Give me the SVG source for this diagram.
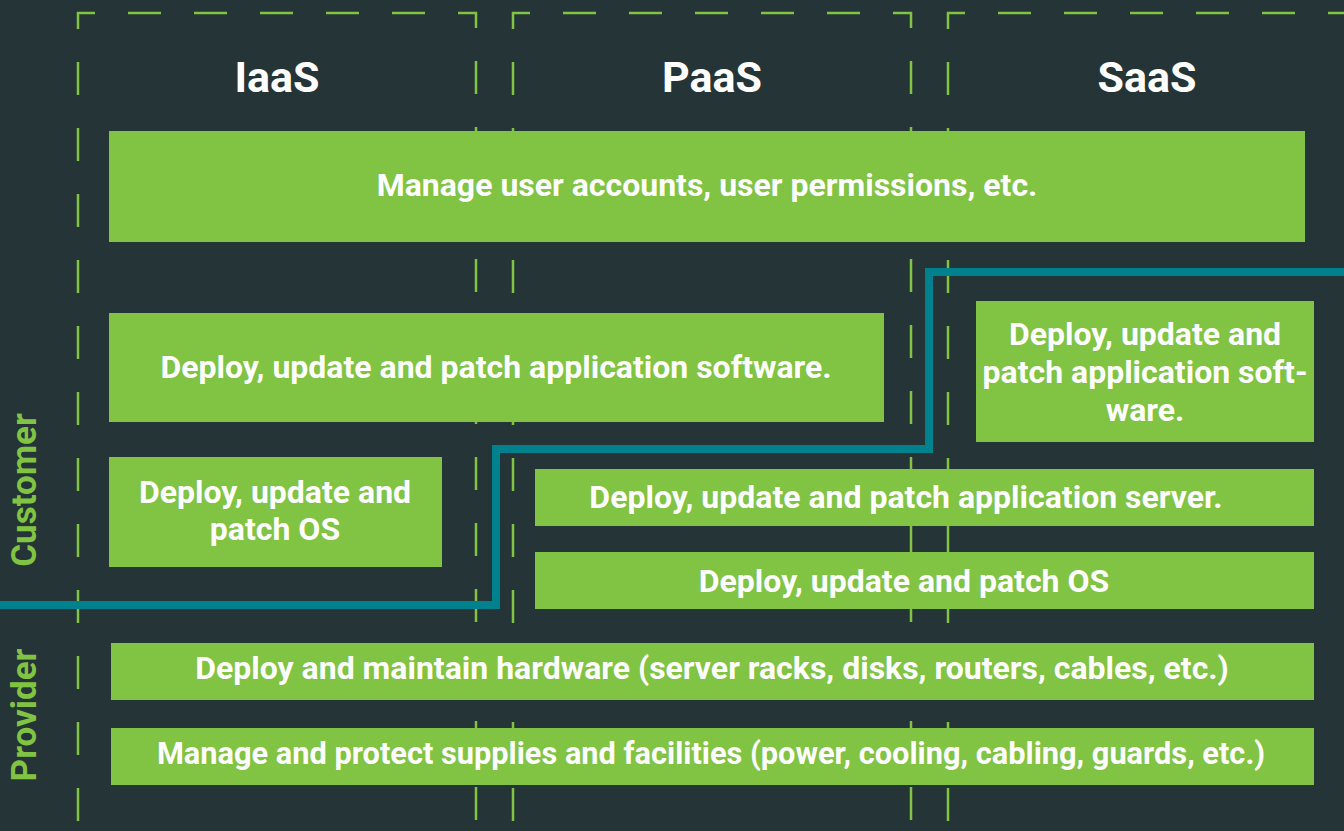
<svg xmlns="http://www.w3.org/2000/svg" xmlns:xlink="http://www.w3.org/1999/xlink" width="1344" height="831" viewBox="0 0 1344 831">
<style>
.bg{fill:#253537}
.box{fill:#81C342}
.col{fill:none;stroke:#81C342;stroke-width:2.5;stroke-dasharray:33 33;stroke-dashoffset:53}
.head{font-family:Roboto,"Liberation Sans",sans-serif;font-weight:700;font-size:43px;fill:#ffffff;text-anchor:middle}
.t{font-family:Roboto,"Liberation Sans",sans-serif;font-weight:700;font-size:32px;fill:#ffffff;text-anchor:middle}
.small{font-size:30.75px}
.side{font-family:Roboto,"Liberation Sans",sans-serif;font-weight:700;font-size:35px;fill:#81C342;text-anchor:middle}
.line{fill:none;stroke:#00828E;stroke-width:8;stroke-linejoin:miter}
</style>
<defs>
<path id="colpath" d="M78,900 V13 H476 V900"/>
</defs>
<rect class="bg" x="0" y="0" width="1344" height="831"/>
<g id="columns">
<use xlink:href="#colpath" class="col"/>
<use xlink:href="#colpath" class="col" transform="translate(435,0)"/>
<use xlink:href="#colpath" class="col" transform="translate(870,0)"/>
<text class="head" x="277" y="92">IaaS</text>
<text class="head" x="712" y="92">PaaS</text>
<text class="head" x="1147" y="92">SaaS</text>
</g>
<g id="sides">
<text class="side" transform="translate(36,490) rotate(-90)">Customer</text>
<text class="side" transform="translate(36,715) rotate(-90)">Provider</text>
</g>
<g id="n1"><rect class="box" x="109" y="131" width="1196" height="111"/><text class="t" x="707" y="196">Manage user accounts, user permissions, etc.</text></g>
<g id="n2"><rect class="box" x="109" y="313" width="775" height="109"/><text class="t" x="496" y="378">Deploy, update and patch application software.</text></g>
<g id="n3"><rect class="box" x="109" y="457" width="333" height="110"/><text class="t" x="275" y="503">Deploy, update and</text><text class="t" x="275" y="540">patch OS</text></g>
<g id="n4"><rect class="box" x="976" y="301" width="338" height="141"/><text class="t" x="1145" y="345">Deploy, update and</text><text class="t" x="1145" y="383">patch application soft-</text><text class="t" x="1145" y="421">ware.</text></g>
<g id="n5"><rect class="box" x="535" y="469" width="779" height="57"/><text class="t" x="906" y="508">Deploy, update and patch application server.</text></g>
<g id="n6"><rect class="box" x="535" y="552" width="779" height="57"/><text class="t" x="904" y="592">Deploy, update and patch OS</text></g>
<g id="n7"><rect class="box" x="111" y="643" width="1203" height="57"/><text class="t" x="712" y="679">Deploy and maintain hardware (server racks, disks, routers, cables, etc.)</text></g>
<g id="n8"><rect class="box" x="111" y="728" width="1203" height="57"/><text class="t small" x="711" y="764">Manage and protect supplies and facilities (power, cooling, cabling, guards, etc.)</text></g>
<g id="connectors">
<polyline class="line" points="-5,605 496,605 496,449 929,449 929,272 1350,272"/>
</g>
</svg>
